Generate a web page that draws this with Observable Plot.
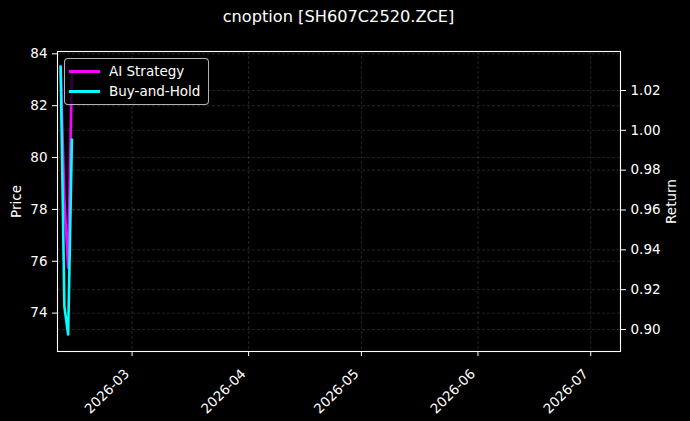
<!DOCTYPE html>
<html>
<head>
<meta charset="utf-8">
<script src="https://cdn.jsdelivr.net/npm/d3@7"></script>
<script src="https://cdn.jsdelivr.net/npm/@observablehq/plot@0.6"></script>
<style>
html,body{margin:0;padding:0;background:#000;}
#wrap{position:relative;width:690px;height:421px;font-family:"DejaVu Sans",sans-serif;color:#fff;background:#000;overflow:hidden;}
#title{height:34px;line-height:34px;box-sizing:border-box;padding-left:57px;padding-right:70px;text-align:center;font-size:16.2px;white-space:nowrap;}
#legend{position:absolute;left:64px;top:58px;width:145px;height:47px;border:1px solid rgba(210,210,210,0.85);border-radius:4px;background:rgba(0,0,0,0.8);box-sizing:border-box;font-size:13.5px;}
#legend .row{position:absolute;left:0;height:20px;line-height:20px;white-space:nowrap;}
#legend .swatch{position:absolute;left:4px;top:9px;width:31px;height:3px;}
#legend .lab{position:absolute;left:44px;top:0;}
svg{display:block;}
</style>
</head>
<body>
<div id="wrap">
  <div id="title"></div>
  <div id="legend"></div>
</div>
<script>
// ---- data ----
const chartTitle = "cnoption [SH607C2520.ZCE]";
const dates = ["2026-02-10", "2026-02-11", "2026-02-12", "2026-02-13"];
const aiStrategy = [1.032, 0.965, 0.931, 1.030];
const buyAndHold = [1.032, 0.9115, 0.8975, 0.9954];
const seriesNames = ["AI Strategy", "Buy-and-Hold"];
const seriesColors = ["magenta", "cyan"];
const priceTicks = [74, 76, 78, 80, 82, 84];
const returnTicks = [0.90, 0.92, 0.94, 0.96, 0.98, 1.00, 1.02];
const monthTicks = ["2026-03-01", "2026-04-01", "2026-05-01", "2026-06-01", "2026-07-01"];
const xDomain = ["2026-02-09T04:00Z", "2026-07-08T22:00Z"];
const priceDomain = [72.52, 84.09];
const returnDomain = [0.88895, 1.03958];

// ---- build ----
document.getElementById("title").textContent = chartTitle;

const legend = document.getElementById("legend");
seriesNames.forEach((name, i) => {
  const row = document.createElement("div");
  row.className = "row";
  row.style.top = (1.5 + i * 20.5) + "px";
  row.style.width = "100%";
  const sw = document.createElement("div");
  sw.className = "swatch";
  sw.style.background = seriesColors[i];
  const lab = document.createElement("div");
  lab.className = "lab";
  lab.textContent = name;
  row.appendChild(sw);
  row.appendChild(lab);
  legend.appendChild(row);
});

const table = dates.map((d, i) => ({date: new Date(d), ai: aiStrategy[i], bh: buyAndHold[i]}));
const priceToReturn = p => returnDomain[0] + (p - priceDomain[0]) / (priceDomain[1] - priceDomain[0]) * (returnDomain[1] - returnDomain[0]);
const priceTicksY = priceTicks.map(priceToReturn);
const monthDates = monthTicks.map(d => new Date(d));

const gridStyle = {stroke: "#ffffff", strokeOpacity: 0.2, strokeWidth: 0.7, strokeDasharray: "3,2"};

const chart = Plot.plot({
  width: 690,
  height: 387,
  marginTop: 17,
  marginBottom: 70,
  marginLeft: 57,
  marginRight: 70,
  style: {background: "#000", color: "#fff", fontSize: "13.5px", fontFamily: "DejaVu Sans, sans-serif"},
  x: {type: "utc", domain: xDomain.map(d => new Date(d))},
  y: {domain: returnDomain},
  marks: [
    Plot.gridX(monthDates, gridStyle),
    Plot.gridY(returnTicks, gridStyle),
    Plot.gridY(priceTicksY, gridStyle),
    Plot.line(table, {x: "date", y: "ai", stroke: seriesColors[0], strokeWidth: 2.6}),
    Plot.line(table, {x: "date", y: "bh", stroke: seriesColors[1], strokeWidth: 2.6}),
    Plot.frame({stroke: "#fff", strokeWidth: 1.1}),
    // x tick marks
    Plot.axisX(monthDates, {tickFormat: () => "", tickSize: 5, label: null, stroke: "#fff"}),
    // x tick labels (rotated)
    Plot.axisX(monthDates, {tickFormat: d3.utcFormat("%Y-%m"), tickRotate: -45, tickSize: 0, tickPadding: 9, dx: -5, dy: 11, label: null, fill: "#fff"}),
    Plot.axisY(priceTicksY, {anchor: "left", tickFormat: (d, i) => String(priceTicks[i]), tickSize: 5, tickPadding: 5, label: "Price", labelAnchor: "center", labelArrow: "none", labelOffset: 46, stroke: "#fff", fill: "#fff"}),
    Plot.axisY(returnTicks, {anchor: "right", tickFormat: d3.format(".2f"), tickSize: 5, tickPadding: 5, label: "Return", labelAnchor: "center", labelArrow: "none", labelOffset: 55, stroke: "#fff", fill: "#fff"})
  ]
});
document.getElementById("wrap").insertBefore(chart, legend);
</script>
</body>
</html>
